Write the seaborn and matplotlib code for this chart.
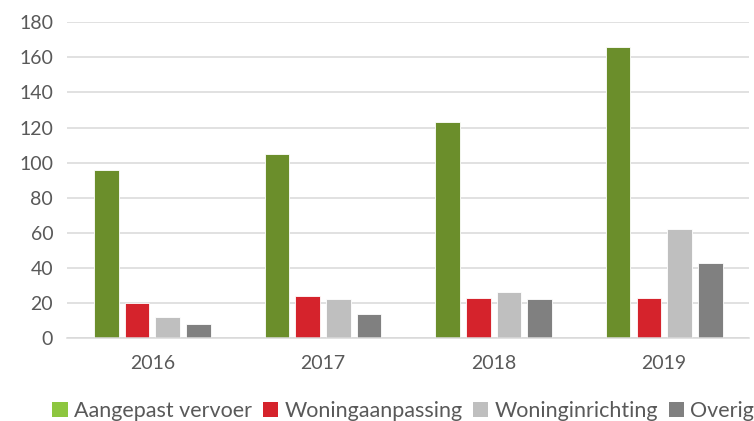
import numpy as np
import pandas as pd
import matplotlib
matplotlib.use("Agg")
import matplotlib.pyplot as plt
from matplotlib.patches import Patch
import seaborn as sns

# ── data ───────────────────────────────────────────────────────────────────
years      = ["2016", "2017", "2018", "2019"]
series     = ["Aangepast vervoer", "Woningaanpassing", "Woninginrichting", "Overig"]
vervoer    = [96, 105, 123, 166]
aanpassing = [20, 24, 23, 23]
inrichting = [12, 22, 26, 62]
overig     = [8, 14, 22, 43]

bar_colors    = ["#6B8E2B", "#D5232C", "#BFBFBF", "#808080"]
legend_colors = ["#8DC63F", "#D5232C", "#BFBFBF", "#808080"]

df = pd.DataFrame({
    "jaar":  years * 4,
    "soort": np.repeat(series, len(years)),
    "aantal": vervoer + aanpassing + inrichting + overig,
})

sns.set_theme(style="white")
plt.rcParams["font.family"] = ["Lato", "DejaVu Sans"]

fig = plt.figure(figsize=(7.54, 4.21), dpi=100)
ax = fig.add_axes([0.089, 0.197, 0.905, 0.75])

sns.barplot(
    data=df, x="jaar", y="aantal", hue="soort",
    palette=bar_colors, saturation=1, width=0.72, gap=0.2,
    edgecolor="white", linewidth=0.6,
    ax=ax, legend=False,
)

ax.set_ylim(0, 180)
ax.set_yticks(range(0, 181, 20))
ax.set_xlim(-0.5, 3.5)
ax.yaxis.grid(True, color="#D9D9D9", linewidth=1.1)
ax.set_axisbelow(True)
for side in ["top", "right", "left"]:
    ax.spines[side].set_visible(False)
ax.spines["bottom"].set_color("#D9D9D9")
ax.spines["bottom"].set_linewidth(1.1)
ax.tick_params(axis="both", length=0, labelsize=14, colors="#595959")
ax.tick_params(axis="x", pad=12)
ax.tick_params(axis="y", pad=10)
ax.set_xlabel("")
ax.set_ylabel("")

handles = [Patch(facecolor=c, edgecolor="none") for c in legend_colors]
fig.legend(
    handles, series, loc="lower center", bbox_to_anchor=(0.535, -0.045),
    ncol=4, frameon=False, fontsize=15.5, labelcolor="#595959",
    handlelength=0.7, handleheight=0.7, handletextpad=0.3, columnspacing=0.5,
)

fig.savefig("out.png", dpi=100)
